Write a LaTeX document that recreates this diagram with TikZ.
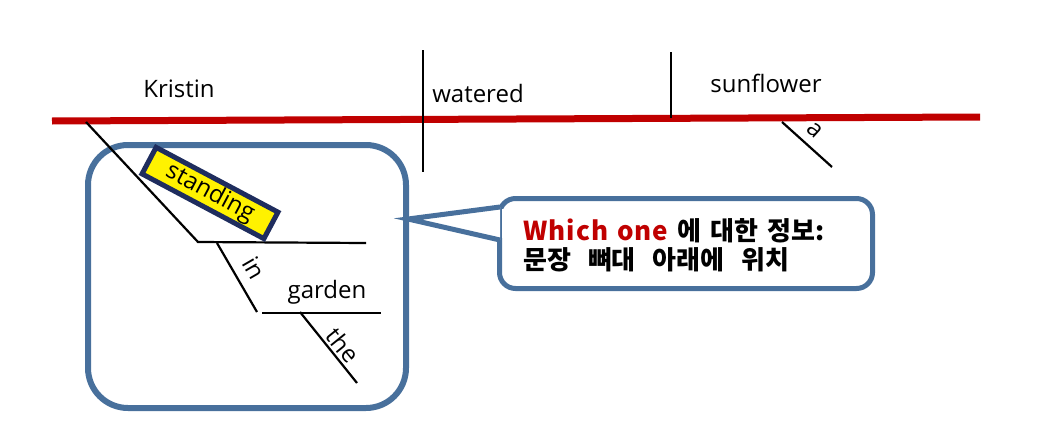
\documentclass[tikz,border=0pt]{standalone}
\usepackage{fontspec}
\setmainfont{Open Sans}
\newfontfamily\krfont{Noto Sans CJK KR}[BoldFont={* Black}]
\definecolor{lnred}{HTML}{C00000}
\definecolor{boxblue}{HTML}{48709C}
\definecolor{navy}{HTML}{1F2D5E}
\definecolor{txtred}{HTML}{C00000}
\begin{document}
\begin{tikzpicture}[x=1pt,y=-1pt,
  word/.style={font=\fontsize{24}{26}\selectfont, inner sep=0pt},
  thin/.style={line width=2.2pt, black},
  bluebox/.style={draw=boxblue, line width=6pt, rounded corners=40pt},
]
\useasboundingbox (0,0) rectangle (1051,447);
% blue rounded box
\node[bluebox, minimum width=318pt, minimum height=263pt, anchor=north west] (frame) at (85,142) {};
% main line
\coordinate (mL) at (52,121);
\coordinate (mR) at (980,117);
\draw[lnred, line width=7pt] (mL) -- (mR);
% verticals
\coordinate (v1t) at (423,50); \coordinate (v1b) at (423,172);
\coordinate (v2t) at (671,52); \coordinate (v2b) at (671,118);
\draw[thin] (v1t) -- (v1b);
\draw[thin] (v2t) -- (v2b);
\node[word] (kristin) at (179,89) {Kristin};
\node[word] (watered) at (478,93) {watered};
\node[word] (sunflower) at (766,83) {sunflower};
% a
\coordinate (a1) at (782,122); \coordinate (a2) at (832,167);
\draw[thin] (a1) -- (a2);
\node[word, rotate=-42] (alab) at (815,130) {a};
% participle
\coordinate (p1) at (86,122); \coordinate (p2) at (198,242); \coordinate (p3) at (366,243);
\draw[thin] (p1) -- (p2) -- (p3);
\node[draw=navy, fill=yellow, line width=5pt, rotate=-28, minimum width=138pt, minimum height=30pt, inner sep=0pt, font=\fontsize{24}{26}\selectfont] (standing) at (210,193) {standing};
% in
\coordinate (i1) at (217,243); \coordinate (i2) at (257,312);
\coordinate (g1) at (262,313); \coordinate (g2) at (381,313);
\draw[thin] (i1) -- (i2);
\draw[thin] (g1) -- (g2);
\node[word, rotate=-60] (inlab) at (254,268) {in};
\node[word] (garden) at (327,292) {garden};
% the
\coordinate (t1) at (300,312); \coordinate (t2) at (357,383);
\draw[thin] (t1) -- (t2);
\node[word, rotate=-51] (thelab) at (343,345) {the};
% callout
\node[draw=boxblue, fill=white, line width=5pt, rounded corners=16pt, minimum width=373pt, minimum height=90pt, anchor=north west] (call) at (497,196) {};
\coordinate (tip) at (408,219);
\coordinate (cb1) at (500,207);
\coordinate (cb2) at (500,240);
\draw[boxblue, line width=5pt, line join=miter, fill=white] (cb1) -- (tip) -- (cb2);
\fill[white] (502,209) rectangle (508,238);
\node[anchor=west, inner sep=0pt, align=left, font=\krfont\bfseries\fontsize{26}{29}\selectfont] (ctext) at (523,245) {\spaceskip=9pt\textcolor{txtred}{\addfontfeature{LetterSpace=4}Which one} 에 대한 정보:\\\spaceskip=17pt 문장 뼈대 아래에 위치};
\end{tikzpicture}
\end{document}
